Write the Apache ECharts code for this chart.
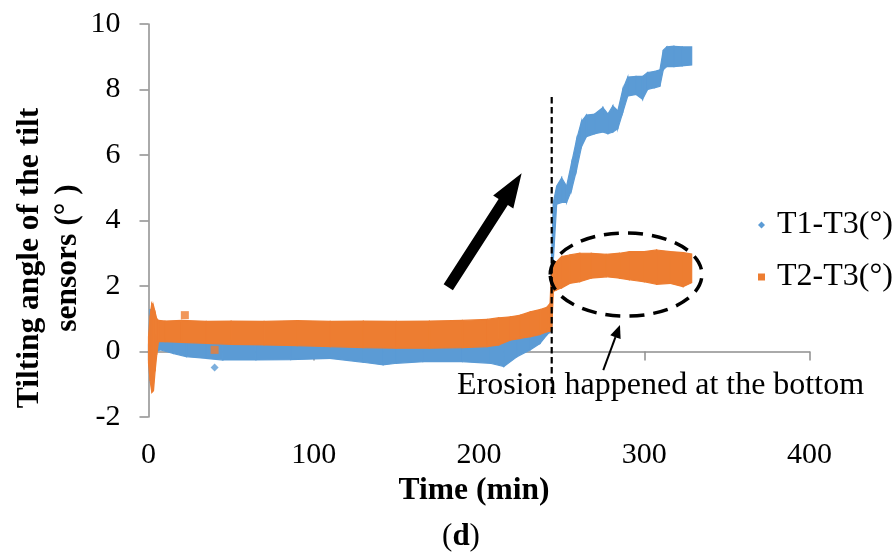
<!DOCTYPE html>
<html>
<head>
<meta charset="utf-8">
<script src="https://cdn.jsdelivr.net/npm/echarts@6/dist/echarts.min.js"></script>
<style>
  html, body { margin: 0; padding: 0; background: #fff; }
  #chart { width: 894px; height: 552px; }
</style>
</head>
<body>
<div id="chart"></div>
<script>
// Tilt sensor readings: each series is recorded as the lower and upper edge
// of its scatter cloud at a set of times (min), in degrees.
const timeT1 = [0, 1, 2, 3, 4, 5, 7, 15, 23, 35, 45, 65, 86, 110, 130, 142, 150, 166, 190, 207, 215, 223, 231, 237, 241, 243, 244, 245, 247, 250, 253, 256, 259, 262, 265, 270, 275, 278, 281, 284, 287, 290, 295, 299, 302, 306, 309.5, 311.5, 313.6, 318, 323, 328.7];
const lowT1  = [-0.25, -0.9, -0.8, -0.5, -0.1, 0.0, 0.05, -0.06, -0.16, -0.21, -0.26, -0.26, -0.25, -0.21, -0.33, -0.41, -0.36, -0.31, -0.31, -0.36, -0.46, -0.16, 0.05, 0.25, 0.5, 0.6, 0.7, 2.8, 4.5, 4.55, 4.55, 4.93, 5.54, 6.25, 6.56, 6.65, 6.7, 6.65, 6.7, 6.8, 7.3, 7.8, 7.85, 7.7, 8.0, 8.05, 8.1, 8.6, 8.7, 8.7, 8.72, 8.75];
const highT1 = [0.2, 1.3, 1.0, 0.6, 0.5, 0.4, 0.4, 0.4, 0.38, 0.35, 0.33, 0.32, 0.3, 0.3, 0.28, 0.27, 0.27, 0.27, 0.3, 0.33, 0.4, 0.5, 0.55, 0.62, 0.7, 0.75, 3.0, 4.55, 5.05, 5.3, 5.05, 5.75, 6.46, 7.02, 7.22, 7.25, 7.45, 7.25, 7.5, 7.35, 8.0, 8.38, 8.4, 8.4, 8.52, 8.55, 8.6, 9.2, 9.3, 9.32, 9.3, 9.3];

const timeT2 = [0, 1, 2, 3, 4, 5, 6, 10, 20, 35, 50, 70, 90, 110, 130, 150, 170, 190, 205, 212, 219, 225, 231, 237, 241, 243, 244, 245, 247, 250, 255, 261, 268, 277, 285, 291, 300, 307.5, 315.6, 323.6, 328.7];
const lowT2  = [-0.35, -0.9, -1.25, -1.2, -0.6, -0.1, 0.3, 0.3, 0.28, 0.25, 0.22, 0.2, 0.18, 0.15, 0.12, 0.1, 0.1, 0.12, 0.15, 0.2, 0.35, 0.4, 0.45, 0.52, 0.6, 0.62, 0.65, 1.83, 1.88, 1.94, 2.08, 2.13, 2.24, 2.28, 2.24, 2.19, 2.13, 2.05, 2.08, 1.98, 2.1];
const highT2 = [0.45, 1.1, 1.48, 1.4, 1.2, 1.0, 0.95, 0.93, 0.95, 0.92, 0.93, 0.92, 0.94, 0.92, 0.93, 0.92, 0.93, 0.95, 0.98, 1.03, 1.06, 1.11, 1.21, 1.28, 1.35, 1.47, 2.7, 2.69, 2.74, 2.9, 2.95, 3.0, 3.0, 2.97, 3.0, 3.05, 3.05, 3.1, 3.05, 3.02, 2.98];

// Isolated readings away from the main clouds
const strayT1 = [[40, -0.49]];
const strayT2 = [[22, 1.11], [40, 0.05]];

const nameT1 = 'T1-T3(°)';
const nameT2 = 'T2-T3(°)';

// Annotations, in data units (time, angle)
const erosionTime = 244;
const erosionLineSpan = [7.77, -1.42];
const bigArrow = { from: [181.4, 1.96], to: [225.8, 5.44] };
const ellipseCenter = [289, 2.35];
const ellipseRadius = [45.9, 1.27];
const noteArrow = { from: [275.2, -0.57], to: [285.3, 0.81] };
const noteAnchor = [186.7, -1.05];
const noteText = 'Erosion happened at the bottom';

const BLUE = '#5b9bd5';
const ORANGE = '#ed7d31';
const SERIF = '"Liberation Serif", "Times New Roman", serif';

function segments(t, lo, hi) {
  const rows = [];
  for (let i = 0; i < t.length - 1; i++) {
    rows.push([t[i], lo[i], hi[i], t[i + 1], lo[i + 1], hi[i + 1]]);
  }
  return rows;
}

function bandRenderer(color) {
  return function (params, api) {
    const a = api.coord([api.value(0), api.value(2)]);
    const b = api.coord([api.value(3), api.value(5)]);
    const c = api.coord([api.value(3), api.value(4)]);
    const d = api.coord([api.value(0), api.value(1)]);
    return {
      type: 'polygon',
      shape: { points: [a, b, c, d] },
      style: { fill: color, stroke: color, lineWidth: 1.2 }
    };
  };
}

const chart = echarts.init(document.getElementById('chart'), null, { renderer: 'canvas' });

chart.setOption({
  animation: false,
  backgroundColor: '#fff',
  textStyle: { fontFamily: SERIF, color: '#000' },
  grid: { left: 148.5, right: 84.5, top: 24, bottom: 135, containLabel: false },
  xAxis: {
    type: 'value', min: 0, max: 400, interval: 100,
    name: 'Time (min)', nameLocation: 'middle', nameGap: 51,
    nameTextStyle: { fontFamily: SERIF, fontSize: 31.5, fontWeight: 'bold', color: '#000', padding: [0, 10, 0, 0] },
    axisLine: { lineStyle: { color: '#8e8e8e', width: 1.5 } },
    axisTick: { show: true, length: 9, lineStyle: { color: '#8e8e8e', width: 1.5 } },
    axisLabel: { fontFamily: SERIF, fontSize: 30, color: '#000', margin: 23 },
    splitLine: { show: false }
  },
  yAxis: {
    type: 'value', min: -2, max: 10, interval: 2,
    axisLine: { show: true, lineStyle: { color: '#8e8e8e', width: 1.5 } },
    axisTick: { show: true, length: 9, lineStyle: { color: '#8e8e8e', width: 1.5 } },
    axisLabel: { fontFamily: SERIF, fontSize: 30, color: '#000', margin: 28 },
    splitLine: { show: false }
  },
  legend: {
    orient: 'vertical', left: 758, top: 209, padding: 0,
    itemWidth: 7, itemHeight: 7, itemGap: 20,
    textStyle: { fontFamily: SERIF, fontSize: 32, lineHeight: 31, color: '#000', padding: [0, 0, 0, 7] },
    data: [{ name: nameT1, icon: 'diamond' }, { name: nameT2, icon: 'rect' }]
  },
  series: [
    {
      name: nameT1, type: 'custom', z: 2,
      itemStyle: { color: BLUE },
      renderItem: bandRenderer(BLUE),
      encode: { x: [0, 3], y: [1, 2, 4, 5] },
      data: segments(timeT1, lowT1, highT1)
    },
    {
      name: nameT1, type: 'scatter', z: 2, symbol: 'diamond', symbolSize: 8,
      itemStyle: { color: BLUE }, data: strayT1
    },
    {
      name: nameT2, type: 'custom', z: 3,
      itemStyle: { color: ORANGE },
      renderItem: bandRenderer(ORANGE),
      encode: { x: [0, 3], y: [1, 2, 4, 5] },
      data: segments(timeT2, lowT2, highT2)
    },
    {
      name: nameT2, type: 'scatter', z: 3, symbol: 'rect', symbolSize: 8,
      itemStyle: { color: ORANGE }, data: strayT2
    }
  ]
});

// Annotation overlay placed through the grid's coordinate conversion
function toPx(p) { return chart.convertToPixel({ gridIndex: 0 }, p); }

function arrowPolygon(p0, p1, shaftHalf, headHalf, headLen) {
  const dx = p1[0] - p0[0], dy = p1[1] - p0[1];
  const len = Math.sqrt(dx * dx + dy * dy);
  const ux = dx / len, uy = dy / len, nx = -uy, ny = ux;
  const bx = p1[0] - ux * headLen, by = p1[1] - uy * headLen;
  return [
    [p0[0] + nx * shaftHalf, p0[1] + ny * shaftHalf],
    [bx + nx * shaftHalf, by + ny * shaftHalf],
    [bx + nx * headHalf, by + ny * headHalf],
    [p1[0], p1[1]],
    [bx - nx * headHalf, by - ny * headHalf],
    [bx - nx * shaftHalf, by - ny * shaftHalf],
    [p0[0] - nx * shaftHalf, p0[1] - ny * shaftHalf]
  ];
}

const lineTop = toPx([erosionTime, erosionLineSpan[0]]);
const lineBottom = toPx([erosionTime, erosionLineSpan[1]]);
const ec = toPx(ellipseCenter);
const eEdge = toPx([ellipseCenter[0] + ellipseRadius[0], ellipseCenter[1] + ellipseRadius[1]]);
const bigFrom = toPx(bigArrow.from), bigTo = toPx(bigArrow.to);
const nFrom = toPx(noteArrow.from), nTo = toPx(noteArrow.to);
const nDx = nTo[0] - nFrom[0], nDy = nTo[1] - nFrom[1];
const nLen = Math.sqrt(nDx * nDx + nDy * nDy);
const nBase = [nTo[0] - nDx / nLen * 13, nTo[1] - nDy / nLen * 13];
const notePos = toPx(noteAnchor);

chart.setOption({
  graphic: [
    {
      type: 'line', z: 10,
      shape: { x1: lineTop[0], y1: lineTop[1], x2: lineBottom[0], y2: lineBottom[1] },
      style: { stroke: '#000', lineWidth: 2.2, lineDash: [6.5, 3.5] }
    },
    {
      type: 'ellipse', z: 10,
      shape: { cx: ec[0], cy: ec[1], rx: Math.abs(eEdge[0] - ec[0]), ry: Math.abs(eEdge[1] - ec[1]) },
      style: { fill: null, stroke: '#000', lineWidth: 3.5, lineDash: [15, 9] }
    },
    {
      type: 'polygon', z: 10,
      shape: { points: arrowPolygon(bigFrom, bigTo, 5.5, 12, 34) },
      style: { fill: '#000' }
    },
    {
      type: 'line', z: 10,
      shape: { x1: nFrom[0], y1: nFrom[1], x2: nBase[0], y2: nBase[1] },
      style: { stroke: '#000', lineWidth: 2 }
    },
    {
      type: 'polygon', z: 10,
      shape: { points: arrowPolygon(nBase, nTo, 0, 5.5, 13) },
      style: { fill: '#000' }
    },
    {
      type: 'text', z: 10, x: notePos[0], y: notePos[1],
      style: { text: noteText, fontFamily: SERIF, fontSize: 32, fill: '#000', align: 'left', verticalAlign: 'middle' }
    },
    {
      type: 'text', z: 10, x: 49, y: 258, rotation: Math.PI / 2,
      style: {
        text: 'Tilting angle of the tilt\nsensors (° )',
        fontFamily: SERIF, fontSize: 31.5, fontWeight: 'bold', lineHeight: 38,
        fill: '#000', align: 'center', verticalAlign: 'middle'
      }
    },
    {
      type: 'text', z: 10, x: 461, y: 537,
      style: {
        text: '{p|(}{b|d}{p|)}',
        align: 'center', verticalAlign: 'middle',
        rich: {
          p: { fontFamily: SERIF, fontSize: 31, fill: '#000', fontWeight: 'normal' },
          b: { fontFamily: SERIF, fontSize: 31, fill: '#000', fontWeight: 'bold' }
        }
      }
    }
  ]
});
</script>
</body>
</html>
